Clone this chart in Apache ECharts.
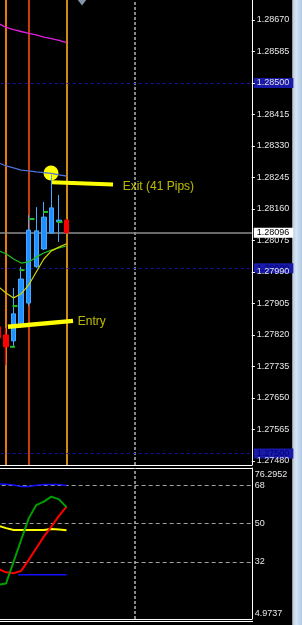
<!DOCTYPE html>
<html><head><meta charset="utf-8">
<script src="https://cdn.jsdelivr.net/npm/echarts@6/dist/echarts.min.js"></script>
<style>html,body{margin:0;padding:0;background:#000;overflow:hidden}#c{width:302px;height:625px}</style>
</head><body><div id="c"></div>
<script>
// ---------- DATA ----------
const categories = ['09:00','09:15','09:30','09:45','10:00','10:15','10:30','10:45','11:00','11:15',
  '11:30','11:45','12:00','12:15','12:30','12:45','13:00','13:15','13:30','13:45','14:00','14:15',
  '14:30','14:45','15:00','15:15','15:30','15:45','16:00','16:15','16:30','16:45','17:00','17:15'];
const open  = [1.27842, 1.27820, 1.27804, 1.27847, 1.27906, 1.28004, 1.28052, 1.28095, 1.28125, 1.28130];
const close = [1.27812, 1.27788, 1.27877, 1.27971, 1.28103, 1.28101, 1.28138, 1.28163, 1.28130, 1.28096];
const low   = [1.27793, 1.27739, 1.27788, 1.27839, 1.27898, 1.28001, 1.28049, 1.28093, 1.28071, 1.28093];
const high  = [1.27855, 1.27839, 1.27947, 1.28004, 1.28144, 1.28165, 1.28179, 1.28252, 1.28198, 1.28133];
const maMagenta = [1.28661, 1.28650, 1.28644, 1.28639, 1.28634, 1.28630, 1.28624, 1.28620, 1.28615, 1.28609];
const maBlue    = [1.28285, 1.28276, 1.28271, 1.28265, 1.28263, 1.28260, 1.28258, 1.28256, 1.28252, 1.28249];
const maGreen   = [1.28047, 1.28039, 1.28025, 1.28014, 1.28017, 1.28030, 1.28041, 1.28049, 1.28055, 1.28060];
const maYellow  = [1.27950, 1.27933, 1.27920, 1.27931, 1.27955, 1.27990, 1.28025, 1.28047, 1.28057, 1.28066];
const markDots  = [[1.86, 1.27788], [2.19, 1.27898], [3.12, 1.27995], [4.44, 1.28133], [6.22, 1.28152], [8.14, 1.28125]];
const sessionBars = ['09:15', '10:00', '11:15'];
const shiftBar = '13:30';
const roundLevels = [1.28500, 1.28000, 1.27500];
const bidPrice = 1.28096;
const priceTicks = [1.28670, 1.28585, 1.28500, 1.28415, 1.28330, 1.28245, 1.28160, 1.28075,
  1.27990, 1.27905, 1.27820, 1.27735, 1.27650, 1.27565, 1.27480];
const priceMin = 1.27469, priceMax = 1.28724;
const exitMarker = [6.95, 1.28257];
const exitLine  = [[7.08, 1.28232], [15.15, 1.28226]];
const entryLine = [[1.26, 1.27842], [9.86, 1.27858]];
const notes = [{name: 'Exit (41 Pips)', value: [16.43, 1.28221]}, {name: 'Entry', value: [10.48, 1.27855]}];
const shiftMarker = [11.05, 1.28717];
// lower panel (stochastic)
const stochMain   = [21.2, 21.7, 32.0, 42.3, 52.5, 58.8, 60.4, 62.8, 61.5, 57.8];
const stochSignal = [28.6, 27.0, 26.6, 27.7, 32.9, 38.4, 43.9, 48.6, 53.7, 58.0];
const stochYellow = [49.0, 47.9, 47.0, 47.0, 47.0, 47.0, 47.0, 47.5, 47.3, 46.9];
const stochBlue   = [68.8, 68.6, 68.3, 67.5, 67.6, 68.1, 68.5, 68.5, 68.5, 68.0];
const stochBlueLow = [[2.6, 25.9], [9.0, 25.9]];
const stochLevels = [68, 50, 32];
const stochMin = 4.9737, stochMax = 76.2952;
const stochTicks = [76.2952, 68, 50, 32, 4.9737];

// ---------- STYLE ----------
const FONT = 'Liberation Sans';
const sessionColors = ['#e8780c', '#c83c0c', '#d08a10'];

const chart = echarts.init(document.getElementById('c'), null, {renderer: 'canvas'});
const candles = open.map((o, i) => [o, close[i], low[i], high[i]]);
const levelLabel = (bg, fg) => ({
  show: true, position: 'end', distance: 2, formatter: p => Number(p.value).toFixed(5),
  backgroundColor: bg, color: fg, padding: [1, 4, 0, 3], fontSize: 9, fontFamily: FONT, lineHeight: 9
});
const hidden = {show: false};
const axisLineW = {show: true, onZero: false, lineStyle: {color: '#fff', width: 1}};

const option = {
  backgroundColor: '#000',
  animation: false,
  grid: [
    {left: -5.34, right: 50.2, top: 0, height: 465, outerBoundsMode: 'none', containLabel: false},
    {left: -5.34, right: 50.2, top: 468, height: 151, outerBoundsMode: 'none', containLabel: false}
  ],
  xAxis: [
    {type: 'category', gridIndex: 0, data: categories, boundaryGap: true,
      axisLine: axisLineW, axisTick: hidden, axisLabel: hidden, splitLine: hidden},
    {type: 'value', gridIndex: 0, min: -0.5, max: 33.5, show: false, axisLine: {onZero: false}, splitLine: hidden},
    {type: 'category', gridIndex: 1, data: categories, boundaryGap: true, position: 'bottom',
      axisLine: axisLineW, axisTick: hidden, axisLabel: hidden, splitLine: hidden},
    {type: 'category', gridIndex: 1, data: categories, boundaryGap: true, position: 'top',
      axisLine: axisLineW, axisTick: hidden, axisLabel: hidden, splitLine: hidden},
    {type: 'value', gridIndex: 1, min: -0.5, max: 33.5, show: false, axisLine: {onZero: false}, splitLine: hidden}
  ],
  yAxis: [
    {type: 'value', gridIndex: 0, position: 'right', min: priceMin, max: priceMax, z: 10,
      axisLine: axisLineW,
      axisTick: {show: true, inside: false, customValues: priceTicks, length: 3, lineStyle: {color: '#fff'}},
      axisLabel: {show: true, customValues: priceTicks, formatter: v => v.toFixed(5), color: '#e8e8e8',
        fontFamily: FONT, fontSize: 9, margin: 5},
      splitLine: hidden},
    {type: 'value', gridIndex: 1, position: 'right', min: stochMin, max: stochMax, z: 10,
      axisLine: axisLineW,
      axisTick: {show: false, customValues: stochTicks},
      axisLabel: {show: true, customValues: stochTicks, margin: 3, color: '#e8e8e8', fontFamily: FONT, fontSize: 9,
        formatter: v => v === stochMax ? '{t|' + v + '}' : (v === stochMin ? '{b|' + v + '}' : '{n|' + v + '}'),
        rich: {t: {padding: [14, 0, 0, 0]}, b: {padding: [0, 0, 10, 0]}, n: {}}},
      splitLine: hidden}
  ],
  series: [
    // helper series carrying the session / shift lines (drawn beneath candles)
    {type: 'line', xAxisIndex: 0, yAxisIndex: 0, data: [], symbol: 'none', z: 1, silent: true,
      markLine: {z: 1, silent: true, symbol: ['none', 'none'], animation: false, label: {show: false},
        data: [
          ...sessionBars.map((b, i) => ({xAxis: b, lineStyle: {color: sessionColors[i], width: 2, type: 'solid'}})),
          {xAxis: shiftBar, lineStyle: {color: '#b4b4b4', width: 1.5, type: [3, 2]}}
        ]}},
    // helper series carrying the horizontal price lines
    {type: 'line', xAxisIndex: 1, yAxisIndex: 0, data: [], symbol: 'none', z: 1, silent: true,
      markLine: {z: 1, silent: true, precision: 5, symbol: ['none', 'none'], animation: false,
        data: [
          ...roundLevels.map(v => ({yAxis: v, lineStyle: {color: '#1414a0', width: 1, type: [3, 3]},
            label: levelLabel('#1a1aa8', '#00007a')})),
          {yAxis: bidPrice, lineStyle: {color: '#8c8c8c', width: 1.5, type: 'solid'},
            label: levelLabel('#ffffff', '#000000')}
        ]}},
    {type: 'scatter', xAxisIndex: 1, yAxisIndex: 0, data: [exitMarker], symbolSize: 15, z: 1.5,
      itemStyle: {color: '#ffff00', opacity: 1}, silent: true},
    {type: 'candlestick', xAxisIndex: 0, yAxisIndex: 0, data: candles, barWidth: 5, z: 2, silent: true,
      itemStyle: {color: '#1e90ff', color0: '#ff0000', borderColor: '#46a8ff', borderColor0: '#ff0000', borderWidth: 1}},
    {type: 'line', xAxisIndex: 0, yAxisIndex: 0, data: maMagenta, symbol: 'none', z: 3, silent: true, lineStyle: {color: '#e020e0', width: 1.3}},
    {type: 'line', xAxisIndex: 0, yAxisIndex: 0, data: maBlue, symbol: 'none', z: 3, silent: true, lineStyle: {color: '#4f6fd8', width: 1.3}},
    {type: 'line', xAxisIndex: 0, yAxisIndex: 0, data: maGreen, symbol: 'none', z: 3, silent: true, lineStyle: {color: '#20c020', width: 1.2}},
    {type: 'line', xAxisIndex: 0, yAxisIndex: 0, data: maYellow, symbol: 'none', z: 3, silent: true, lineStyle: {color: '#d4d400', width: 1.2}},
    {type: 'scatter', xAxisIndex: 1, yAxisIndex: 0, data: markDots, symbol: 'rect', symbolSize: [5, 2], z: 3,
      itemStyle: {color: '#20c020', opacity: 1}, silent: true},
    {type: 'line', xAxisIndex: 1, yAxisIndex: 0, data: exitLine, symbol: 'none', z: 4, silent: true,
      lineStyle: {color: '#ffff00', width: 4, cap: 'butt'}},
    {type: 'line', xAxisIndex: 1, yAxisIndex: 0, data: entryLine, symbol: 'none', z: 4, silent: true,
      lineStyle: {color: '#ffff00', width: 4.5, cap: 'butt'}},
    {type: 'scatter', xAxisIndex: 1, yAxisIndex: 0, data: notes, symbolSize: 0, z: 5, silent: true,
      itemStyle: {color: 'rgba(0,0,0,0)'},
      label: {show: true, position: 'right', distance: 0, formatter: '{b}', color: '#e6e600',
        fontFamily: FONT, fontSize: 12}},
    {type: 'scatter', xAxisIndex: 1, yAxisIndex: 0, data: [shiftMarker], symbol: 'triangle', symbolRotate: 180,
      symbolSize: [9, 6], z: 5, itemStyle: {color: '#8494a8', opacity: 1}, silent: true},
    // lower panel
    {type: 'line', xAxisIndex: 2, yAxisIndex: 1, data: stochBlue, symbol: 'none', z: 3, silent: true,
      lineStyle: {color: '#1010ff', width: 1.5},
      markLine: {z: 1, silent: true, precision: 5, symbol: ['none', 'none'], animation: false, label: {show: false},
        data: [
          ...stochLevels.map(v => ({yAxis: v, lineStyle: {color: '#a0a0a0', width: 1, type: [4, 3]}})),
          {xAxis: shiftBar, lineStyle: {color: '#b4b4b4', width: 1.5, type: [3, 2]}}
        ]}},
    {type: 'line', xAxisIndex: 4, yAxisIndex: 1, data: stochBlueLow, symbol: 'none', z: 3, silent: true,
      lineStyle: {color: '#1010ff', width: 1.5}},
    {type: 'line', xAxisIndex: 2, yAxisIndex: 1, data: stochYellow, symbol: 'none', z: 3, silent: true, lineStyle: {color: '#ffff00', width: 2}},
    {type: 'line', xAxisIndex: 2, yAxisIndex: 1, data: stochSignal, symbol: 'none', z: 3, silent: true, lineStyle: {color: '#ff0000', width: 2}},
    {type: 'line', xAxisIndex: 2, yAxisIndex: 1, data: stochMain, symbol: 'none', z: 3, silent: true, lineStyle: {color: '#00a000', width: 2}}
  ],
  graphic: [
    {type: 'rect', left: 292, top: 0, shape: {width: 1, height: 625}, style: {fill: '#9a9a9a'}, silent: true},
    {type: 'rect', left: 293, top: 0, shape: {width: 9, height: 625}, silent: true,
      style: {fill: new echarts.graphic.LinearGradient(0, 0, 1, 0, [
        {offset: 0, color: '#b4cbe6'}, {offset: 0.35, color: '#d8e6f4'}, {offset: 1, color: '#b0c8e4'}])}},
    {type: 'rect', left: 0, top: 621, shape: {width: 253, height: 1}, style: {fill: '#ffffff'}, silent: true}
  ]
};
chart.setOption(option);
</script></body></html>
